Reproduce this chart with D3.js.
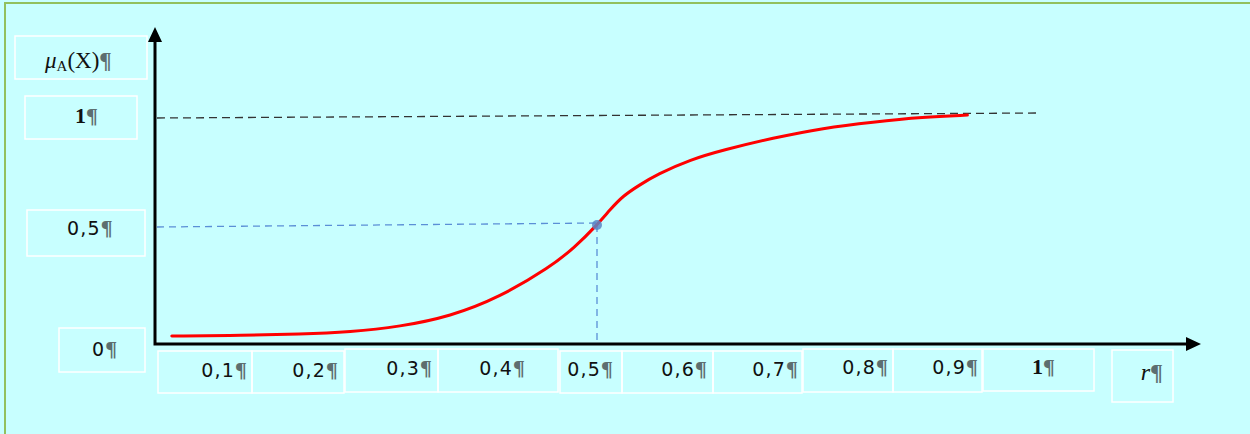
<!DOCTYPE html>
<html><head><meta charset="utf-8">
<script src="https://cdn.jsdelivr.net/npm/d3@7/dist/d3.min.js"></script>
<style>html,body{margin:0;padding:0;background:#c8ffff;}svg{display:block;}</style>
</head><body>
<svg id="c" width="1250" height="434"></svg>
<script>
// ---- data ----
const xTickValues = [0.1,0.2,0.3,0.4,0.5,0.6,0.7,0.8,0.9,1];
const xTickLabels = ["0,1","0,2","0,3","0,4","0,5","0,6","0,7","0,8","0,9","1"];
const yTickValues = [0,0.5,1];
const yTickLabels = ["0","0,5","1"];
const curveR  = [0.019,0.100,0.164,0.221,0.277,0.334,0.390,0.447,0.475,0.500,0.515,0.529,0.548,0.568,0.606,0.643,0.699,0.756,0.812,0.869,0.919];
const curveMu = [0.000,0.003,0.008,0.018,0.042,0.088,0.175,0.310,0.400,0.500,0.570,0.630,0.680,0.728,0.795,0.838,0.892,0.937,0.964,0.986,0.995];
const markR = 0.5, markMu = 0.5;

// ---- layout (decoration boxes / label placement) ----
const xLabelLayout = [
  {b:[158,252,351,393], tx:247, ty:377},
  {b:[252,344,351,393], tx:338, ty:377},
  {b:[345,438,349,392], tx:432, ty:375},
  {b:[438,558,349,392], tx:525, ty:375},
  {b:[560,622,351,393], tx:613, ty:376},
  {b:[622,713,351,393], tx:707, ty:376},
  {b:[713,802,351,393], tx:798, ty:376},
  {b:[803,893,349,392], tx:888, ty:374},
  {b:[893,982,349,392], tx:978, ty:374},
  {b:[983,1094,349,391], tx:1055, ty:374}
];
const yLabelLayout = [
  {b:[59,145,328,372], tx:92, ty:356, serif:false},
  {b:[27,145,210,256], tx:67, ty:235, serif:false},
  {b:[25,137,96,139], tx:75, ty:123, serif:true}
];

const svg = d3.select("#c");
const x = d3.scaleLinear().domain([0,1]).range([155,1039]);
const y = d3.scaleLinear().domain([0,1]).range([336,114]);
const axisY = 344, axisX = 155;

// background + frame
svg.append("rect").attr("width",1250).attr("height",434).attr("fill","#c8ffff");
svg.append("line").attr("x1",4).attr("x2",1250).attr("y1",3).attr("y2",3).attr("stroke","#92c05e").attr("stroke-width",2);
svg.append("line").attr("x1",5).attr("x2",5).attr("y1",3).attr("y2",434).attr("stroke","#92c05e").attr("stroke-width",2);

const pil = "#5d6e6f";
const sans = "'DejaVu Sans',Verdana,sans-serif";
const serifF = "'Liberation Serif','DejaVu Serif',serif";
function addPil(sel, size){
  sel.append("tspan").attr("fill",pil).attr("font-family",serifF).attr("font-weight","bold")
    .attr("font-size",size).attr("letter-spacing",0).text("¶");
}

// y title box
svg.append("rect").attr("x",15).attr("y",36).attr("width",132).attr("height",43)
  .attr("fill","none").attr("stroke","#fff").attr("stroke-width",1.5);
const t = svg.append("text").attr("x",45).attr("y",68)
  .attr("font-family",serifF).attr("font-size",23).attr("fill","#111");
t.append("tspan").attr("font-style","italic").text("μ");
t.append("tspan").attr("font-size",15).attr("dy",3).text("A");
t.append("tspan").attr("dy",-3).text("(X)");
addPil(t, 23);

yTickLabels.forEach((lab,i)=>{
  const L = yLabelLayout[i];
  svg.append("rect").attr("x",L.b[0]).attr("y",L.b[2]).attr("width",L.b[1]-L.b[0]).attr("height",L.b[3]-L.b[2])
    .attr("fill","none").attr("stroke","#fff").attr("stroke-width",1.5);
  const tt = svg.append("text").attr("x",L.tx).attr("y",L.ty)
    .attr("font-family", L.serif ? serifF : sans)
    .attr("font-weight", L.serif ? "bold" : "normal")
    .attr("font-size", L.serif ? 22 : 19).attr("letter-spacing", L.serif?0:1.2).attr("fill","#111");
  tt.append("tspan").text(lab);
  addPil(tt, 22);
});

// x label boxes
xTickLabels.forEach((lab,i)=>{
  const L = xLabelLayout[i];
  svg.append("rect").attr("x",L.b[0]).attr("y",L.b[2]).attr("width",L.b[1]-L.b[0]).attr("height",L.b[3]-L.b[2])
    .attr("fill","none").attr("stroke","#fff").attr("stroke-width",1.5);
  const serif = lab === "1";
  const tt = svg.append("text").attr("x",L.tx).attr("y",L.ty).attr("text-anchor","end")
    .attr("font-family", serif ? serifF : sans)
    .attr("font-weight", serif ? "bold" : "normal")
    .attr("font-size", serif ? 22 : 19).attr("letter-spacing", serif?0:1.2).attr("fill","#111");
  tt.append("tspan").text(lab);
  addPil(tt, 22);
});
// r label
svg.append("rect").attr("x",1112).attr("y",350).attr("width",61).attr("height",52)
  .attr("fill","none").attr("stroke","#fff").attr("stroke-width",1.5);
const rt = svg.append("text").attr("x",1163).attr("y",380).attr("text-anchor","end")
  .attr("font-family",serifF).attr("font-size",24).attr("fill","#111");
rt.append("tspan").attr("font-style","italic").text("r");
addPil(rt, 24);

// dashed guides
svg.append("line").attr("x1",axisX+2).attr("x2",x(1)).attr("y1",y(1)+4).attr("y2",y(1)-1)
  .attr("stroke","#333").attr("stroke-width",1.3).attr("stroke-dasharray","8,5");
svg.append("line").attr("x1",axisX+2).attr("x2",x(markR)).attr("y1",y(markMu)+2).attr("y2",y(markMu)-2)
  .attr("stroke","#5b8fd6").attr("stroke-width",1.3).attr("stroke-dasharray","7,5");
svg.append("line").attr("x1",x(markR)).attr("x2",x(markR)).attr("y1",y(markMu)).attr("y2",axisY-2)
  .attr("stroke","#5b8fd6").attr("stroke-width",1.3).attr("stroke-dasharray","7,5");

// curve
const pts = curveR.map((r,i)=>[r,curveMu[i]]);
svg.append("path").datum(pts)
  .attr("d", d3.line().x(d=>x(d[0])).y(d=>y(d[1])).curve(d3.curveBasis))
  .attr("fill","none").attr("stroke","#ff0000").attr("stroke-width",3).attr("stroke-linecap","round");

svg.append("circle").attr("cx",x(markR)).attr("cy",y(markMu)).attr("r",5)
  .attr("fill","#5a86c6").attr("fill-opacity",0.85);

// axes
svg.append("path").attr("d",`M${axisX},40 L${axisX},${axisY} L1188,${axisY}`)
  .attr("fill","none").attr("stroke","#000").attr("stroke-width",3);
svg.append("path").attr("d",`M${axisX},27 L${axisX-7},42 L${axisX+7},42 Z`).attr("fill","#000");
svg.append("path").attr("d",`M1201,${axisY} L1186,${axisY-7} L1186,${axisY+7} Z`).attr("fill","#000");
</script>
</body></html>
